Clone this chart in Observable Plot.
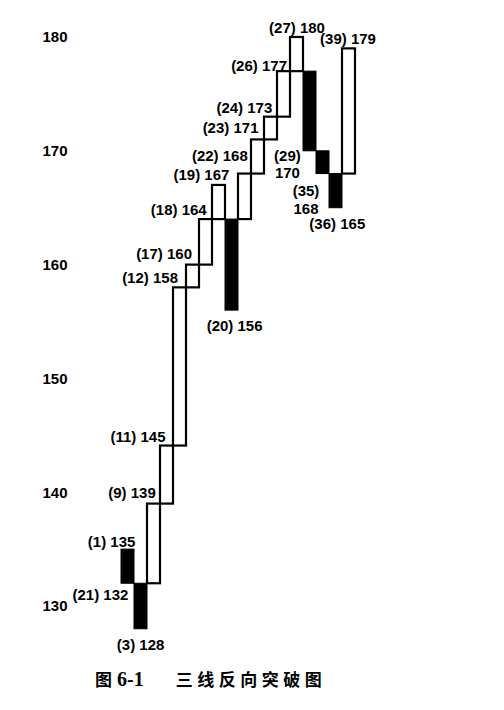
<!DOCTYPE html>
<html>
<head>
<meta charset="utf-8">
<script src="https://cdn.jsdelivr.net/npm/d3@7"></script>
<script src="https://cdn.jsdelivr.net/npm/@observablehq/plot@0.6"></script>
<style>
  body { margin: 0; background: #fff; }
  #chart svg { display: block; }
  .caption {
    margin: 9px 0 0 95px;
    font-family: "Noto Sans CJK SC", sans-serif;
    font-weight: 700;
    font-size: 17px;
    line-height: 20px;
    color: #000;
    white-space: pre;
  }
  .caption .num { font-family: "Liberation Serif", serif; font-size: 20px; margin-left: 5px; }
  .caption .t2 { letter-spacing: 4.5px; margin-left: 32px; }
</style>
</head>
<body>
<div id="chart"></div>
<div class="caption">图<span class="num">6-1</span><span class="t2">三线反向突破图</span></div>
<script>
// ---- data ----
const opens  = [135, 132, 132, 139, 144.1, 158, 160, 164, 164, 164, 168, 171, 173, 177, 177, 170, 168, 168];
const closes = [132, 128, 139, 144.1, 158, 160, 164, 167, 156, 168, 171, 173, 177, 180, 170, 168, 165, 179];
const yTicks = [130, 140, 150, 160, 170, 180];

const labelBar   = [0, 0, 1, 2, 3, 4, 5, 6, 7, 8, 9, 10, 11, 12, 13, 14, 15, 16, 17];
const labelValue = [135, 132, 128, 139, 144.1, 158, 160, 164, 167, 156, 168, 171, 173, 177, 180, 170, 168, 165, 179];
const labelText  = ["(1) 135", "(21) 132", "(3) 128", "(9) 139", "(11) 145", "(12) 158", "(17) 160",
                    "(18) 164", "(19) 167", "(20) 156", "(22) 168", "(23) 171", "(24) 173", "(26) 177",
                    "(27) 180", "(29)\n170", "(35)\n168", "(36) 165", "(39) 179"];

// ---- label placement (style) ----
const labelPlace = [
  ["end", 7.4, -8], ["end", 0.4, 11], ["middle", -0.4, 15.5], ["end", 1.8, -11.5],
  ["end", -1.5, -10], ["end", -2, -10], ["end", -1, -12], ["end", 0.7, -10],
  ["end", 10.4, -11], ["middle", 2.6, 14.5], ["end", 2.8, -19], ["end", 0.5, -12.5],
  ["end", 1.3, -10], ["end", 3, -6], ["middle", 0, -10], ["middle", -22.6, 12.5],
  ["middle", -17, 25.5], ["middle", 1.3, 15.5], ["middle", -1, -11]
];

const bars = opens.map((o, i) => ({i, open: o, close: closes[i], up: closes[i] > o}));
const labels = labelText.map((t, k) => ({i: labelBar[k], v: labelValue[k], t}));

const font = "'Liberation Sans', Arial, Helvetica, sans-serif";

const chart = Plot.plot({
  width: 504,
  height: 660,
  marginLeft: 70,
  marginRight: 140,
  marginTop: 20,
  marginBottom: 40,
  style: {fontFamily: font, background: "#fff", color: "#000"},
  x: {type: "band", domain: d3.range(opens.length), range: [118, 357], padding: 0, axis: null},
  y: {domain: [130, 180], range: [606, 37]},
  marks: [
    Plot.axisY({ticks: yTicks, tickSize: 0, tickPadding: 3, label: null,
                fontSize: 15, fontWeight: "bold", fill: "#000"}),
    Plot.barY(bars.filter(d => d.up), {x: "i", y1: "open", y2: "close",
              fill: "#fff", stroke: "#000", strokeWidth: 2.2}),
    Plot.barY(bars.filter(d => !d.up), {x: "i", y1: "open", y2: "close",
              fill: "#000", stroke: "#000", strokeWidth: 1}),
    ...labels.map((d, k) => Plot.text([d], {
      x: "i", y: "v", text: "t",
      textAnchor: labelPlace[k][0], dx: labelPlace[k][1], dy: labelPlace[k][2],
      fontSize: 15, fontWeight: "bold", fill: "#000", lineHeight: 1.17
    }))
  ]
});
document.getElementById("chart").append(chart);
</script>
</body>
</html>
